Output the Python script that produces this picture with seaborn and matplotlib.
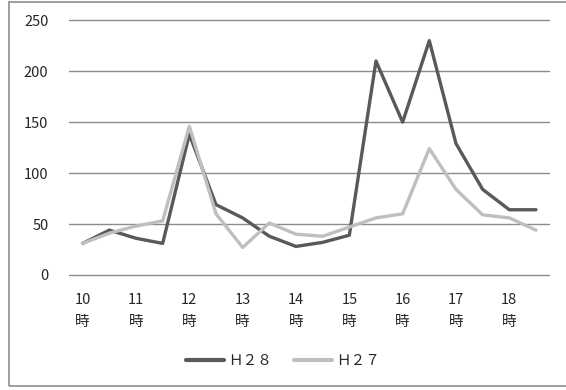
import pandas as pd
import matplotlib
matplotlib.use("Agg")
import matplotlib.pyplot as plt
import seaborn as sns
from matplotlib.patches import Rectangle

sns.set_theme(style="white")
plt.rcParams['font.family'] = ['Noto Sans CJK JP', 'DejaVu Sans']

# half-hour slots, 10:00 - 18:30
slots = ["10:00", "10:30", "11:00", "11:30", "12:00", "12:30", "13:00", "13:30", "14:00",
         "14:30", "15:00", "15:30", "16:00", "16:30", "17:00", "17:30", "18:00", "18:30"]
tick_labels = ["10\n時", "", "11\n時", "", "12\n時", "", "13\n時", "", "14\n時", "",
               "15\n時", "", "16\n時", "", "17\n時", "", "18\n時", ""]
h28 = [31, 44, 36, 31, 138, 69, 56, 38, 28, 32, 39, 210, 150, 230, 129, 84, 64, 64]
h27 = [31, 41, 48, 53, 146, 60, 27, 51, 40, 38, 47, 56, 60, 124, 84, 59, 56, 44]
series = ["Ｈ２８", "Ｈ２７"]

df = pd.DataFrame({
    "slot": slots * 2,
    "value": h28 + h27,
    "series": [series[0]] * len(slots) + [series[1]] * len(slots),
})

fig = plt.figure(figsize=(5.66, 3.9), dpi=100)
ax = fig.add_axes([0.1225, 0.295, 0.848, 0.653])

# chart border (right edge runs off the image)
fig.patches.append(Rectangle((9 / 566, 4 / 390), 0.995, 384.5 / 390, transform=fig.transFigure,
                             fill=False, edgecolor="#8c8c8c", linewidth=1.2))

sns.lineplot(data=df, x="slot", y="value", hue="series", sort=False,
             palette={series[0]: "#595959", series[1]: "#bfbfbf"},
             linewidth=2.4, ax=ax, legend=False)

ax.set_xlim(-0.5, len(slots) - 0.5)
ax.set_ylim(0, 250)
ax.set_yticks([0, 50, 100, 150, 200, 250])
ax.set_xticks(range(len(slots)))
ax.set_xticklabels(tick_labels, fontsize=10.5, linespacing=1.75)
ax.tick_params(axis="y", labelsize=10.5, length=0, pad=15)
ax.tick_params(axis="x", length=0, pad=13)
ax.set_xlabel("")
ax.set_ylabel("")
ax.grid(axis="y", color="#8c8c8c", linewidth=1)
for g in ax.get_ygridlines():
    g.set_clip_on(False)
ax.set_axisbelow(True)
for s in ax.spines.values():
    s.set_visible(False)

handles = [plt.Line2D([], [], color="#595959", lw=3), plt.Line2D([], [], color="#bfbfbf", lw=3)]
fig.legend(handles, series, loc="center", bbox_to_anchor=(0.5, 1 - 361 / 390), ncol=2,
           frameon=False, fontsize=10.5, handlelength=2.6, handletextpad=0.3, columnspacing=1.5)

fig.savefig("out.png", dpi=100)
